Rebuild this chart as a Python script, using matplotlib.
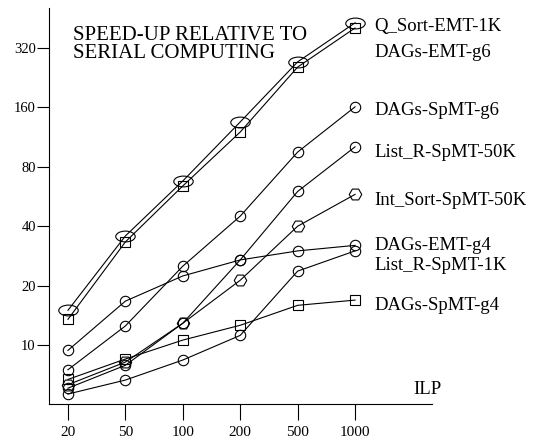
"""Speed-up relative to serial computing versus ILP, log2 y axis."""

import matplotlib
matplotlib.use('Agg')
import matplotlib.pyplot as plt
from matplotlib.path import Path
from matplotlib.transforms import Affine2D

# x categories (ILP)
ilp = ['20', '50', '100', '200', '500', '1000']

# speed-up values per series
q_sort_emt_1k = [15.0, 35.7, 67.8, 135, 272, 429]
dags_emt_g6 = [13.5, 33.3, 64, 120, 256, 404]
dags_spmt_g6 = [7.5, 12.5, 25.1, 45, 95, 161]
list_r_spmt_50k = [6.05, 7.9, 12.9, 27, 60, 101]
int_sort_spmt_50k = [6.3, 8.2, 12.9, 21.3, 40, 58]
dags_emt_g4 = [9.4, 16.7, 22.4, 27, 30, 32]
list_r_spmt_1k = [5.65, 6.65, 8.4, 11.2, 23.7, 30]
dags_spmt_g4 = [6.7, 8.5, 10.6, 12.6, 15.9, 16.9]

series_names = ['Q_Sort-EMT-1K', 'DAGs-EMT-g6', 'DAGs-SpMT-g6',
                'List_R-SpMT-50K', 'Int_Sort-SpMT-50K', 'DAGs-EMT-g4',
                'List_R-SpMT-1K', 'DAGs-SpMT-g4']
series_values = [q_sort_emt_1k, dags_emt_g6, dags_spmt_g6, list_r_spmt_50k,
                 int_sort_spmt_50k, dags_emt_g4, list_r_spmt_1k, dags_spmt_g4]

# where the series names sit on the y axis (data units)
label_y = [409, 305, 155, 95, 54, 32, 25.4, 15.9]

y_ticks = [10, 20, 40, 80, 160, 320]

plt.rcParams['font.family'] = ['Liberation Serif', 'DejaVu Serif']

# wide ellipse marker
ellipse = Path.unit_circle().transformed(Affine2D().scale(1.8, 1.0))

marker_styles = [
    dict(marker=ellipse, markersize=14),
    dict(marker='s', markersize=7),
    dict(marker='o', markersize=7.5),
    dict(marker='o', markersize=7.5),
    dict(marker='H', markersize=9),
    dict(marker='o', markersize=7.5),
    dict(marker='o', markersize=7.5),
    dict(marker='s', markersize=7),
]

fig = plt.figure(figsize=(5.43, 4.42), dpi=100)
ax = fig.add_axes([49 / 543, 1 - 404 / 442, 383 / 543, 396 / 442])

x = list(range(len(ilp)))
for values, style in zip(series_values, marker_styles):
    ax.plot(x, values, color='black', linewidth=0.8, fillstyle='none',
            markeredgewidth=0.8, markeredgecolor='black', **style)

# series names at the right
for name, ypos in zip(series_names, label_y):
    ax.text(5.33, ypos, name, fontsize=13.5, va='center', ha='left')

ax.set_yscale('log', base=2)
ax.set_ylim(5.03, 510)
ax.set_xlim(-0.33, 6.34)
ax.set_yticks(y_ticks)
ax.set_yticklabels([str(t) for t in y_ticks])
ax.minorticks_off()
ax.set_xticks(x)
ax.set_xticklabels(ilp)

ax.spines['top'].set_visible(False)
ax.spines['right'].set_visible(False)
ax.spines['left'].set_linewidth(0.8)
ax.spines['bottom'].set_linewidth(0.8)
ax.tick_params(axis='y', direction='out', length=8.5, width=0.8,
               labelsize=10.5, pad=1)
ax.tick_params(axis='x', direction='out', length=11.5, width=0.8,
               labelsize=11, pad=4)

ax.text(6.5, 5.99, 'ILP', fontsize=13.5, ha='right', va='center')

fig.text(73 / 543, 1 - 26 / 442, 'SPEED-UP RELATIVE TO\nSERIAL COMPUTING',
         fontsize=15, ha='left', va='top', linespacing=0.95)

fig.savefig('out.png', dpi=100)
